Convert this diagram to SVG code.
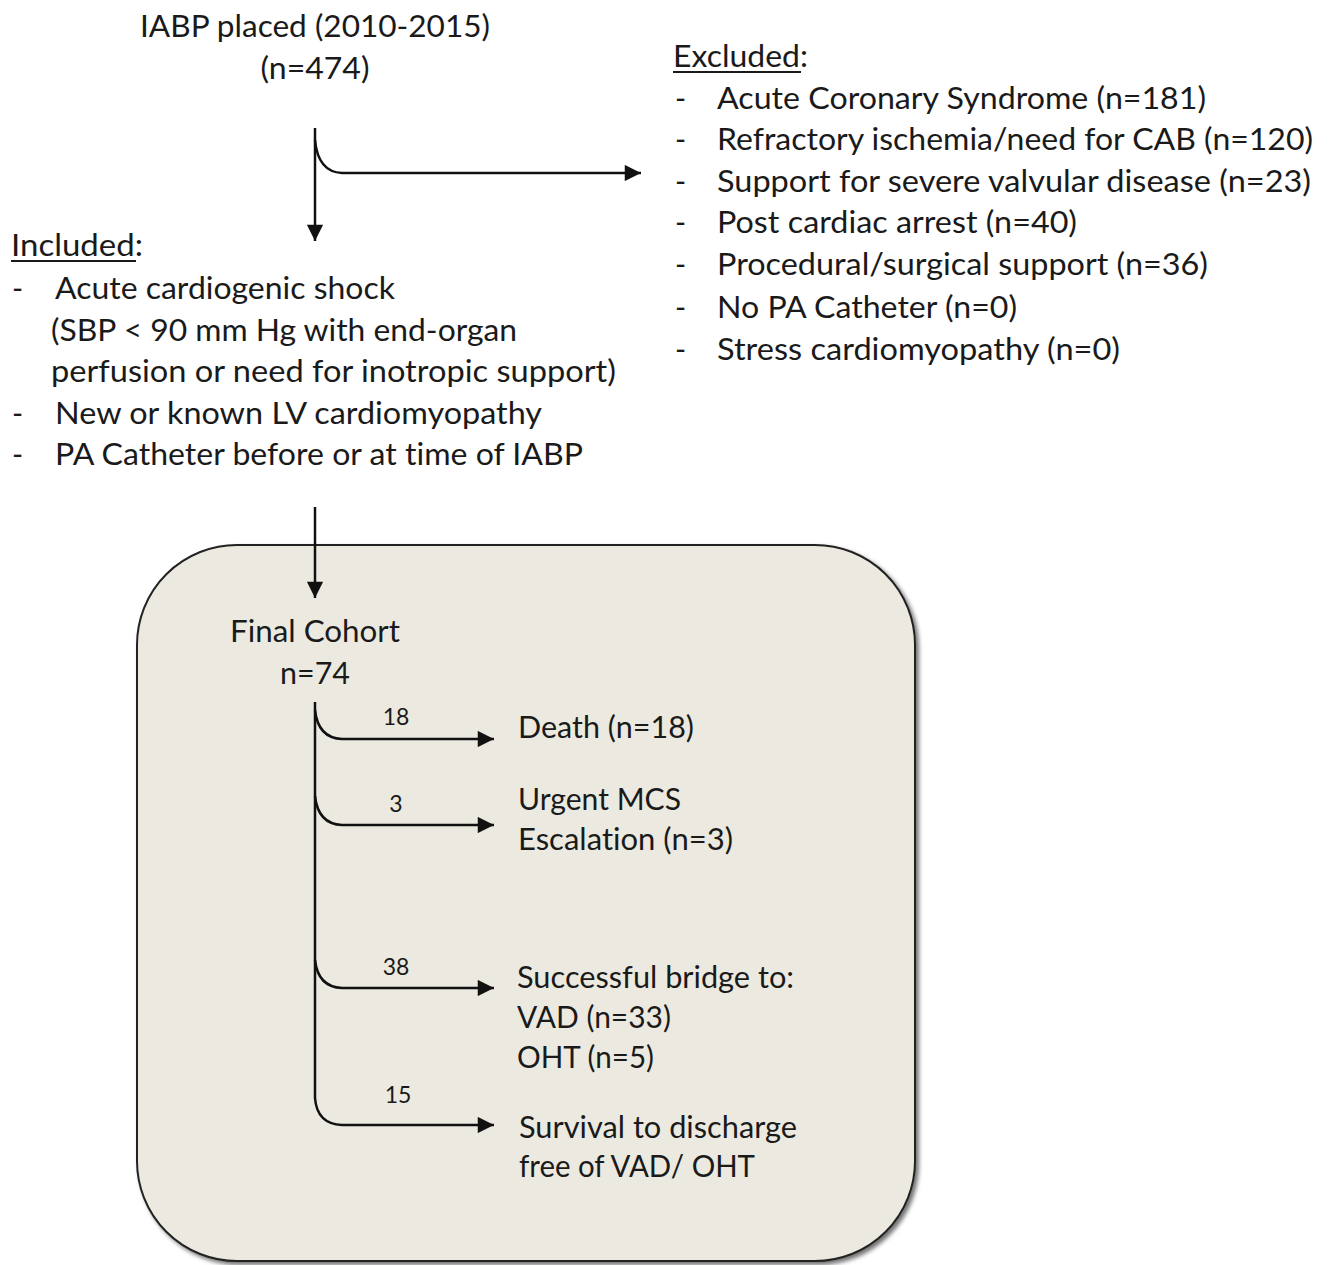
<svg xmlns="http://www.w3.org/2000/svg" width="1331" height="1265" viewBox="0 0 1331 1265">
<defs>
<style>
text{font-family:Lato,"Open Sans","Liberation Sans",sans-serif;font-size:30px;fill:#1a1a1a;font-variant-ligatures:none;font-feature-settings:"liga" 0}
.s{font-size:23px}
.ln{fill:none;stroke:#111;stroke-width:2.5}
</style>
<marker id="ah" viewBox="0 0 10 10" refX="10" refY="5" markerWidth="7" markerHeight="6.5" markerUnits="strokeWidth" orient="auto">
<path d="M0,0 L10,5 L0,10 Z" fill="#111"/>
</marker>
<filter id="sh" x="-5%" y="-5%" width="115%" height="115%">
<feDropShadow dx="3" dy="3" stdDeviation="2" flood-color="#000" flood-opacity="0.55"/>
</filter>
</defs>
<rect width="1331" height="1265" fill="#fff"/>

<g id="cohort-box">
<rect x="137" y="545" width="778" height="716" rx="100" ry="100" fill="#ECEAE0" stroke="#222" stroke-width="2" filter="url(#sh)"/>
</g>

<g id="iabp">
<text x="315" y="37" text-anchor="middle" textLength="350" lengthAdjust="spacingAndGlyphs">IABP placed (2010-2015)</text>
<text x="315" y="79" text-anchor="middle" textLength="109" lengthAdjust="spacingAndGlyphs">(n=474)</text>
</g>

<g id="excluded">
<text x="673" y="67" textLength="135" lengthAdjust="spacingAndGlyphs">Excluded:</text>
<line x1="673" y1="72" x2="801" y2="72" stroke="#1a1a1a" stroke-width="1.8"/>
<text x="675" y="109">-</text><text x="717" y="109" textLength="489" lengthAdjust="spacingAndGlyphs">Acute Coronary Syndrome (n=181)</text>
<text x="675" y="150">-</text><text x="717" y="150" textLength="596" lengthAdjust="spacingAndGlyphs">Refractory ischemia/need for CAB (n=120)</text>
<text x="675" y="192">-</text><text x="717" y="192" textLength="594" lengthAdjust="spacingAndGlyphs">Support for severe valvular disease (n=23)</text>
<text x="675" y="233">-</text><text x="717" y="233" textLength="360" lengthAdjust="spacingAndGlyphs">Post cardiac arrest (n=40)</text>
<text x="675" y="275">-</text><text x="717" y="275" textLength="491" lengthAdjust="spacingAndGlyphs">Procedural/surgical support (n=36)</text>
<text x="675" y="318">-</text><text x="717" y="318" textLength="300" lengthAdjust="spacingAndGlyphs">No PA Catheter (n=0)</text>
<text x="675" y="360">-</text><text x="717" y="360" textLength="403" lengthAdjust="spacingAndGlyphs">Stress cardiomyopathy (n=0)</text>
</g>

<g id="included">
<text x="11" y="256" textLength="132" lengthAdjust="spacingAndGlyphs">Included:</text>
<line x1="11" y1="261" x2="136" y2="261" stroke="#1a1a1a" stroke-width="1.8"/>
<text x="12" y="299">-</text><text x="55" y="299" textLength="340" lengthAdjust="spacingAndGlyphs">Acute cardiogenic shock</text>
<text x="51" y="341" textLength="466" lengthAdjust="spacingAndGlyphs">(SBP &lt; 90 mm Hg with end-organ</text>
<text x="51" y="382" textLength="565" lengthAdjust="spacingAndGlyphs">perfusion or need for inotropic support)</text>
<text x="12" y="424">-</text><text x="55" y="424" textLength="487" lengthAdjust="spacingAndGlyphs">New or known LV cardiomyopathy</text>
<text x="12" y="465">-</text><text x="55" y="465" textLength="528" lengthAdjust="spacingAndGlyphs">PA Catheter before or at time of IABP</text>
</g>

<g id="final-cohort">
<text x="315" y="642" text-anchor="middle" textLength="170" lengthAdjust="spacingAndGlyphs">Final Cohort</text>
<text x="315" y="684" text-anchor="middle" textLength="70" lengthAdjust="spacingAndGlyphs">n=74</text>
</g>

<g id="death">
<text x="518" y="738" textLength="176" lengthAdjust="spacingAndGlyphs">Death (n=18)</text>
</g>
<g id="urgent-mcs">
<text x="518" y="810" textLength="163" lengthAdjust="spacingAndGlyphs">Urgent MCS</text>
<text x="518" y="850" textLength="215" lengthAdjust="spacingAndGlyphs">Escalation (n=3)</text>
</g>
<g id="bridge">
<text x="517" y="988" textLength="277" lengthAdjust="spacingAndGlyphs">Successful bridge to:</text>
<text x="517" y="1028" textLength="154" lengthAdjust="spacingAndGlyphs">VAD (n=33)</text>
<text x="517" y="1068" textLength="137" lengthAdjust="spacingAndGlyphs">OHT (n=5)</text>
</g>
<g id="survival">
<text x="519" y="1138" textLength="278" lengthAdjust="spacingAndGlyphs">Survival to discharge</text>
<text x="519" y="1177" textLength="236" lengthAdjust="spacingAndGlyphs">free of VAD/ OHT</text>
</g>

<g id="connectors">
<path class="ln" d="M315,128 L315,241" marker-end="url(#ah)"/>
<path class="ln" d="M315,140 Q318,172 342,173 L641,173" marker-end="url(#ah)"/>
<path class="ln" d="M315,507 L315,598" marker-end="url(#ah)"/>
<path class="ln" d="M315,702 L315,1098 Q317,1124 342,1125 L494,1125" marker-end="url(#ah)"/>
<path class="ln" d="M315,710 Q318,738 342,739 L494,739" marker-end="url(#ah)"/>
<path class="ln" d="M315,796 Q318,824 342,825 L494,825" marker-end="url(#ah)"/>
<path class="ln" d="M315,960 Q318,987 342,988 L494,988" marker-end="url(#ah)"/>
<text class="s" x="396" y="725" text-anchor="middle">18</text>
<text class="s" x="396" y="812" text-anchor="middle">3</text>
<text class="s" x="396" y="975" text-anchor="middle">38</text>
<text class="s" x="398" y="1103" text-anchor="middle">15</text>
</g>
</svg>
